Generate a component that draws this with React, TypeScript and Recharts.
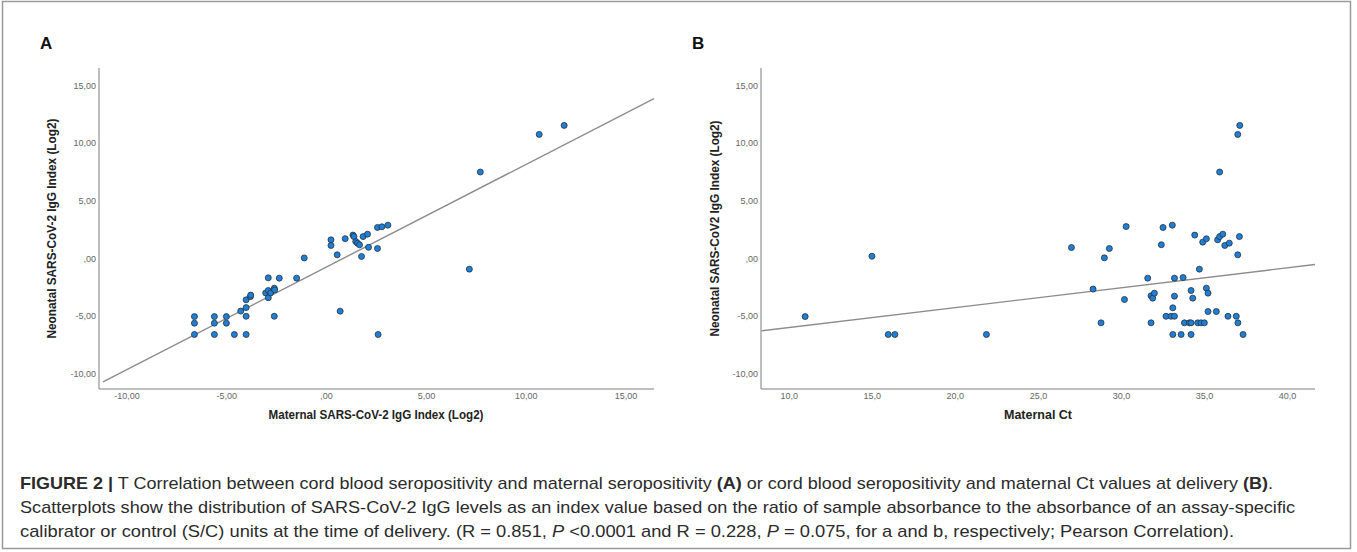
import React from 'react';
import { ScatterChart, Scatter, XAxis, YAxis, ReferenceLine } from 'recharts';

// Panel A: maternal vs neonatal SARS-CoV-2 IgG index (log2)
const maternalIgG = [
  -6.62, -6.62, -6.62, -5.62, -5.62, -5.62, -5.02, -5.02, -4.62, -4.3,
  -4.03, -4.03, -4.03, -4.03, -3.82, -3.8, -3.05, -2.92, -2.92, -2.92,
  -2.8, -2.62, -2.6, -2.62, -2.37, -1.5, -1.12, 0.22, 0.22, 0.53,
  0.68, 0.93, 1.32, 1.37, 1.46, 1.55, 1.65, 1.75, 1.83, 2.05,
  2.1, 2.55, 2.55, 2.77, 3.07, 2.58, 7.15, 7.7, 10.65, 11.9,
];
const neonatalIgGA = [
  -5.03, -5.6, -6.58, -5.03, -5.6, -6.58, -5.03, -5.6, -6.58, -4.55,
  -5.0, -4.25, -6.58, -3.58, -3.3, -3.17, -2.98, -1.67, -2.77, -3.4,
  -2.97, -2.57, -2.72, -5.0, -1.7, -1.7, 0.05, 1.62, 1.13, 0.32,
  -4.56, 1.72, 2.03, 1.9, 1.47, 1.33, 1.19, 0.18, 1.9, 2.11,
  0.97, 0.87, 2.69, 2.75, 2.89, -6.58, -0.92, 7.49, 10.75, 11.53,
];

// Panel B: maternal Ct vs neonatal IgG index (log2)
const maternalCt = [
  10.96, 14.98, 15.96, 16.36, 21.87, 26.99, 28.29, 28.77, 28.97, 29.27,
  30.18, 30.28, 31.58, 31.78, 31.78, 31.88, 31.98, 32.4, 32.5, 32.68,
  32.98, 33.06, 33.09, 33.09, 33.19, 33.19, 33.19, 33.59, 33.71, 33.79,
  34.09, 34.19, 34.19, 34.19, 34.29, 34.41, 34.59, 34.69, 34.79, 34.89,
  34.99, 35.11, 35.11, 35.21, 35.21, 35.71, 35.79, 35.91, 35.91, 36.1,
  36.22, 36.41, 36.49, 36.91, 37.0, 37.0, 37.01, 37.1, 37.12, 37.32,
];
const neonatalIgGB = [
  -5.03, 0.2, -6.58, -6.58, -6.58, 0.95, -2.65, -5.57, 0.06, 0.87,
  -3.55, 2.77, -1.7, -5.57, -3.23, -3.43, -3.0, 1.19, 2.69, -5.0,
  -5.0, 2.89, -4.27, -6.58, -1.7, -3.26, -5.0, -6.58, -1.65, -5.57,
  -5.57, -5.57, -6.58, -2.77, -3.43, 2.03, -5.57, -0.92, -5.57, 1.42,
  -5.57, 1.71, -2.57, -3.0, -4.59, -4.59, 1.62, 1.9, 7.49, 2.11,
  1.13, -5.0, 1.33, -5.0, 0.32, 10.75, -5.57, 1.9, 11.53, -6.58,
];

const igTicks = [-10, -5, 0, 5, 10, 15];
const igTickLabels = ['-10,00', '-5,00', ',00', '5,00', '10,00', '15,00'];
const ctTicks = [10, 15, 20, 25, 30, 35, 40];
const ctTickLabels = ['10,0', '15,0', '20,0', '25,0', '30,0', '35,0', '40,0'];

// linear fit lines as drawn in the figure
const fitA = { slope: 0.889, intercept: -0.73, from: -11.2, to: 16.4 };
const fitB = { slope: 0.1724, intercept: -7.7, from: 8.3, to: 41.65 };

const igDomain = [-11.3, 16.5];

const zip = (xs: number[], ys: number[]) => xs.map((x, i) => ({ x, y: ys[i] }));

const Dot = (p: any) => (
  <circle cx={p.cx} cy={p.cy} r={3} fill="#1f7fd6" stroke="#26313b" strokeWidth={0.8} />
);

const tickStyle = { fontSize: 9, fill: '#666', fontFamily: 'Liberation Sans, Arial, sans-serif' };

function Panel({ data, xDomain, xTicks, xLabels, fit, width, margin }: any) {
  const seg = [
    { x: fit.from, y: fit.slope * fit.from + fit.intercept },
    { x: fit.to, y: fit.slope * fit.to + fit.intercept },
  ];
  return (
    <ScatterChart width={width} height={420} margin={margin}>
      <XAxis
        type="number"
        dataKey="x"
        domain={xDomain}
        ticks={xTicks}
        interval={0}
        allowDataOverflow
        tickFormatter={(v: number) => xLabels[xTicks.indexOf(v)]}
        axisLine={{ stroke: '#a8a8a8', strokeWidth: 1.5 }}
        tickLine={false}
        tickSize={1}
        tickMargin={3}
        height={30}
        tick={tickStyle}
      />
      <YAxis
        type="number"
        dataKey="y"
        domain={igDomain}
        ticks={igTicks}
        interval={0}
        allowDataOverflow
        tickFormatter={(v: number) => igTickLabels[igTicks.indexOf(v)]}
        axisLine={{ stroke: '#a8a8a8', strokeWidth: 1.5 }}
        tickLine={false}
        tickSize={1}
        tickMargin={2}
        width={60}
        tick={tickStyle}
      />
      <ReferenceLine segment={seg} stroke="#8c8c8c" strokeWidth={1.4} ifOverflow="visible" />
      <Scatter data={data} shape={Dot} isAnimationActive={false} />
    </ScatterChart>
  );
}

const titleFont = 'Liberation Sans Narrow, Liberation Sans, Arial, sans-serif';
const capFont = 'Liberation Sans Narrow, Liberation Sans, Arial, sans-serif';

export default function App() {
  return (
    <div style={{ position: 'absolute', left: 0, top: 0, width: 1357, height: 552, background: '#fff' }}>
      <div style={{ position: 'absolute', left: 0, top: 0 }}>
        <Panel
          data={zip(maternalIgG, neonatalIgGA)}
          xDomain={[-11.4, 16.4]}
          xTicks={igTicks}
          xLabels={igTickLabels}
          fit={fitA}
          width={680}
          margin={{ top: 68, right: 26, left: 39, bottom: 1 }}
        />
      </div>
      <div style={{ position: 'absolute', left: 680, top: 0 }}>
        <Panel
          data={zip(maternalCt, neonatalIgGB)}
          xDomain={[8.3, 41.65]}
          xTicks={ctTicks}
          xLabels={ctTickLabels}
          fit={fitB}
          width={677}
          margin={{ top: 68, right: 42, left: 21, bottom: 1 }}
        />
      </div>
      <svg width={1357} height={552} style={{ position: 'absolute', left: 0, top: 0, pointerEvents: 'none' }}>
        <rect x={2.5} y={1.5} width={1348} height={547} fill="none" stroke="#9a9a9a" strokeWidth={1.5} />
        <text x={40} y={49} fontSize={17} fontWeight="bold" fontFamily="Liberation Sans, Arial" fill="#111">A</text>
        <text x={692} y={49} fontSize={17} fontWeight="bold" fontFamily="Liberation Sans, Arial" fill="#111">B</text>

        <g fontFamily={titleFont} fontWeight="bold" fontSize={12.5} fill="#222" textAnchor="middle">
          <text transform="translate(56,228.5) rotate(-90)" textLength={220} lengthAdjust="spacingAndGlyphs">
            Neonatal SARS-CoV-2 IgG Index (Log2)
          </text>
          <text x={376} y={419} textLength={215} lengthAdjust="spacingAndGlyphs">
            Maternal SARS-CoV-2 IgG Index (Log2)
          </text>
          <text transform="translate(719,228.5) rotate(-90)" textLength={216} lengthAdjust="spacingAndGlyphs">
            Neonatal SARS-CoV2 IgG Index (Log2)
          </text>
          <text x={1038} y={419} textLength={68} lengthAdjust="spacingAndGlyphs">
            Maternal Ct
          </text>
        </g>

        <g fontFamily={capFont} fontSize={17} fill="#2b2b2b">
          <text x={20} y={489} textLength={1253} lengthAdjust="spacingAndGlyphs">
            <tspan fontWeight="bold">FIGURE 2 |</tspan>
            {' T Correlation between cord blood seropositivity and maternal seropositivity '}
            <tspan fontWeight="bold">(A)</tspan>
            {' or cord blood seropositivity and maternal Ct values at delivery '}
            <tspan fontWeight="bold">(B)</tspan>
            {'.'}
          </text>
          <text x={20} y={513} textLength={1275} lengthAdjust="spacingAndGlyphs">
            Scatterplots show the distribution of SARS-CoV-2 IgG levels as an index value based on the ratio of sample absorbance to the absorbance of an assay-specific
          </text>
          <text x={20} y={537} textLength={1214} lengthAdjust="spacingAndGlyphs">
            {'calibrator or control (S/C) units at the time of delivery. (R = 0.851, '}
            <tspan fontStyle="italic">P</tspan>
            {' <0.0001 and R = 0.228, '}
            <tspan fontStyle="italic">P</tspan>
            {' = 0.075, for a and b, respectively; Pearson Correlation).'}
          </text>
        </g>
      </svg>
    </div>
  );
}
